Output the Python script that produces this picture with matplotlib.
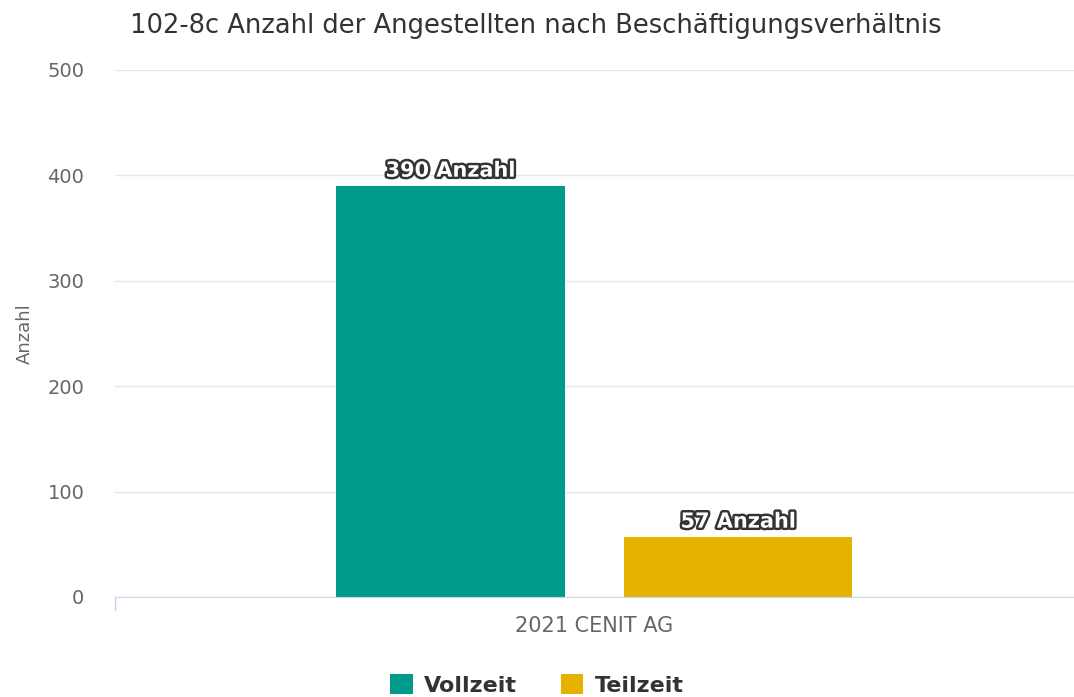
import matplotlib
matplotlib.use('Agg')
import matplotlib.pyplot as plt
import matplotlib.patheffects as pe

# data
category = '2021 CENIT AG'
series = ['Vollzeit', 'Teilzeit']
values = [390, 57]
colors = ['#009a8b', '#e6b200']
yticks = [0, 100, 200, 300, 400, 500]

plt.rcParams['font.family'] = ['DejaVu Sans']

fig = plt.figure(figsize=(10.74, 6.97), dpi=100)
ax = fig.add_axes([0.107, 0.1435, 0.893, 0.7561])

offsets = [-0.15, 0.15]
width = 0.238
for name, v, c, off in zip(series, values, colors, offsets):
    ax.bar(off, v, width=width, color=c, label=name, zorder=3)
    t = ax.text(off, v + 5, f'{v} Anzahl', ha='center', va='bottom',
                fontsize=15, fontweight='bold', color='white', zorder=4)
    t.set_path_effects([pe.Stroke(linewidth=3.5, foreground='#333333'), pe.Normal()])

ax.set_xlim(-0.5, 0.5)
ax.set_ylim(0, 500)
ax.set_yticks(yticks)
ax.set_xticks([0])
ax.set_xticklabels([category])
ax.grid(axis='y', color='#e6e6e6', linewidth=1, zorder=0)
for s in ['top', 'right', 'left']:
    ax.spines[s].set_visible(False)
ax.spines['bottom'].set_color('#ccd6eb')
ax.spines['bottom'].set_zorder(5)
ax.tick_params(axis='y', length=0, pad=22, labelsize=14, labelcolor='#666666')
ax.tick_params(axis='x', length=0, pad=14, labelsize=15, labelcolor='#666666')
# left edge tick of category axis
ax.plot([-0.5, -0.5], [0, -12], color='#ccd6eb', lw=1, clip_on=False,
        transform=ax.transData)
ax.set_ylabel('Anzahl', fontsize=13, color='#666666', labelpad=10)

fig.text(0.121, 0.962, '102-8c Anzahl der Angestellten nach Beschäftigungsverhältnis',
         fontsize=18.5, color='#333333', va='center')

leg = fig.legend(loc='lower center', bbox_to_anchor=(0.5, -0.027), ncol=2,
                 frameon=False, handlelength=1.0, handleheight=1.0,
                 columnspacing=2.0, handletextpad=0.5,
                 prop={'size': 16, 'weight': 'bold'})
for txt in leg.get_texts():
    txt.set_color('#333333')

fig.savefig('out.png', dpi=100)
